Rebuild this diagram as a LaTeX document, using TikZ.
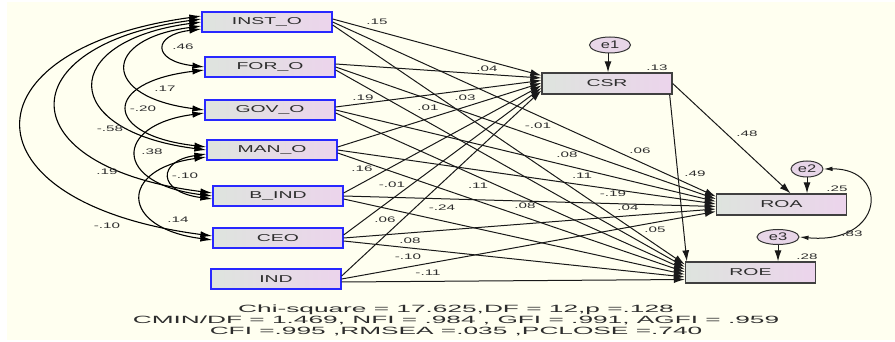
\documentclass[tikz,border=0pt]{standalone}
\usepackage{fontspec}
\setmainfont{Liberation Sans}
\usepackage{graphicx}
\usetikzlibrary{arrows.meta,shapes.geometric}
\definecolor{bgc}{RGB}{255,255,240}
\definecolor{exob}{RGB}{40,40,255}
\definecolor{lgrey}{RGB}{222,228,222}
\definecolor{lpink}{RGB}{236,212,236}
\definecolor{ellf}{RGB}{232,214,232}
\definecolor{txt}{RGB}{45,45,45}
\newcommand{\sxa}[1]{\scalebox{1.9}[1]{#1}}
\newcommand{\sxb}[1]{\scalebox{1.94}[1]{#1}}
\newcommand{\sxc}[1]{\scalebox{2.5}[1]{#1}}
\newcommand{\sxe}[1]{\scalebox{1.5}[1]{#1}}
\begin{document}
\begin{tikzpicture}[x=1pt,y=-1pt,
  exo/.style={draw=exob, line width=1.3pt, left color=lgrey, right color=lpink, minimum width=130pt, minimum height=20pt, inner sep=0pt, text=txt, font=\fontsize{10}{12}\selectfont},
  endo/.style={draw=black!75, line width=1.3pt, left color=lgrey, right color=lpink, minimum width=130pt, minimum height=21pt, inner sep=0pt, text=txt, font=\fontsize{10}{12}\selectfont},
  err/.style={ellipse, draw=black!80, line width=1pt, fill=ellf, inner sep=0pt, text=txt, font=\fontsize{11}{12}\selectfont},
  lab/.style={inner sep=0pt, text=txt, font=\fontsize{8}{9}\selectfont},
  bot/.style={inner sep=0pt, text=txt, font=\fontsize{10.5}{12}\selectfont},
  reg/.style={draw=black!90, line width=1pt, -{Latex[length=11pt,width=7pt]}},
  cov/.style={draw=black, line width=1.1pt, {Latex[length=12pt,width=6.5pt]}-{Latex[length=12pt,width=6.5pt]}},
  ecov/.style={draw=black!90, line width=1pt, {Latex[length=9pt,width=4.5pt]}-{Latex[length=9pt,width=4.5pt]}},
]
\useasboundingbox (0,0) rectangle (895,342);
\fill[bgc] (7,2) rectangle (895,340);

% exogenous
\node[exo] (INST) at (267,22) {\sxb{INST\_O}};
\node[exo] (FOR)  at (270,67) {\sxb{FOR\_O}};
\node[exo] (GOV)  at (270,110) {\sxb{GOV\_O}};
\node[exo] (MAN)  at (272,150) {\sxb{MAN\_O}};
\node[exo] (BIND) at (278,196) {\sxb{B\_IND}};
\node[exo] (CEO)  at (278,238) {\sxb{CEO}};
\node[exo] (IND)  at (276,279) {\sxb{IND}};

% endogenous
\node[endo] (CSR) at (607,83.5) {\sxb{CSR}};
\node[endo] (ROA) at (781.5,204.5) {\sxb{ROA}};
\node[endo] (ROE) at (750.5,272.5) {\sxb{ROE}};

% errors
\node[err, minimum width=41pt, minimum height=16pt] (e1) at (610,45) {\sxe{e1}};
\node[err, minimum width=32pt, minimum height=16pt] (e2) at (807,169) {\sxe{e2}};
\node[err, minimum width=42pt, minimum height=15pt] (e3) at (778,237) {\sxe{e3}};

\draw[reg] ([xshift=-2pt]e1.south) -- ([xshift=-2pt]e1.south |- CSR.north);
\draw[reg] (e2.south) -- (e2.south |- ROA.north);
\draw[reg] (e3.south) -- (e3.south |- ROE.north);
\draw[ecov] (e2.east) .. controls (890,168) and (885,245) .. (e3.east);

% regression paths
\foreach \s/\k in {INST/0,FOR/1,GOV/2,MAN/3,BIND/4,CEO/5,IND/6} {
  \pgfmathsetmacro\ty{8-2.5*\k}
  \draw[reg] ([yshift=3pt]\s.east) -- ([yshift=\ty pt]CSR.west);
  \draw[reg] (\s.east) -- ([yshift=\ty pt]ROA.west);
  \draw[reg] ([yshift=-3pt]\s.east) -- ([yshift=\ty pt]ROE.west);
}
\draw[reg] (CSR.east) -- ([xshift=9pt]ROA.north);
\draw[reg] ([xshift=-3pt]CSR.south east) -- ([xshift=2pt]ROE.north west);

% covariances
\draw[cov] ([yshift=-7pt]INST.west) .. controls (152,35) and (152,61) .. (FOR.west);
\draw[cov] ([yshift=-4pt]INST.west) .. controls (101,39) and (101,97) .. (GOV.west);
\draw[cov] ([yshift=-3pt]FOR.west) .. controls (102,82) and (102,135) .. ([yshift=3pt]MAN.west);
\draw[cov] (INST.west) .. controls (58,41) and (58,131) .. (MAN.west);
\draw[cov] ([yshift=3pt]INST.west) .. controls (7,45) and (7,167) .. ([yshift=3pt]BIND.west);
\draw[cov] ([yshift=6pt]INST.west) .. controls (-39,49) and (-39,203) .. ([yshift=2pt]CEO.west);
\draw[cov] ([yshift=-3pt]GOV.west) .. controls (113,125) and (113,184) .. (BIND.west);
\draw[cov] ([yshift=-4pt]MAN.west) .. controls (157,161) and (157,192) .. ([yshift=-3pt]BIND.west);
\draw[cov] ([yshift=-7pt]MAN.west) .. controls (119,169) and (119,228) .. ([yshift=-2pt]CEO.west);

% covariance labels
\node[lab] (c1) at (183,47) {\sxa{.46}};
\node[lab] (c2) at (165,89) {\sxa{.17}};
\node[lab] (c3) at (143,109) {\sxa{-.20}};
\node[lab] (c4) at (110,129) {\sxa{-.58}};
\node[lab] (c5) at (152,152) {\sxa{.38}};
\node[lab] (c6) at (107,172) {\sxa{.19}};
\node[lab] (c7) at (185,176) {\sxa{-.10}};
\node[lab] (c8) at (178,220) {\sxa{.14}};
\node[lab] (c9) at (107,226) {\sxa{-.10}};

% path labels
\node[lab] (p1) at (377,22) {\sxa{.15}};
\node[lab] (p2) at (487,69) {\sxa{.04}};
\node[lab] (p3) at (363,98) {\sxa{.19}};
\node[lab] (p4) at (465,98) {\sxa{.03}};
\node[lab] (p5) at (428,108) {\sxa{.01}};
\node[lab] (p6) at (538,126) {\sxa{-.01}};
\node[lab] (p7) at (567,155) {\sxa{.08}};
\node[lab] (p8) at (582,176) {\sxa{.11}};
\node[lab] (p9) at (362,169) {\sxa{.16}};
\node[lab] (p10) at (392,185) {\sxa{-.01}};
\node[lab] (p11) at (478,186) {\sxa{.11}};
\node[lab] (p12) at (613,194) {\sxa{-.19}};
\node[lab] (p13) at (442,208) {\sxa{-.24}};
\node[lab] (p14) at (525,206) {\sxa{.08}};
\node[lab] (p15) at (628,208) {\sxa{.04}};
\node[lab] (p16) at (385,220) {\sxa{.06}};
\node[lab] (p17) at (410,241) {\sxa{.08}};
\node[lab] (p18) at (408,257) {\sxa{-.10}};
\node[lab] (p19) at (428,273) {\sxa{-.11}};
\node[lab] (p20) at (640,151) {\sxa{.06}};
\node[lab] (p21) at (655,230) {\sxa{.05}};
\node[lab] (p22) at (747,134) {\sxa{.48}};
\node[lab] (p23) at (695,174) {\sxa{.49}};
\node[lab] (r1) at (657,68) {\sxa{.13}};
\node[lab] (r2) at (837,189) {\sxa{.25}};
\node[lab] (r3) at (807,257) {\sxa{.28}};
\node[lab] (r4) at (852,234) {\sxa{.83}};

% fit indices
\node[bot, anchor=base] (f1) at (456,312) {\sxc{Chi-square = 17.625,DF = 12,p =.128}};
\node[bot, anchor=base] (f2) at (456,323) {\sxc{CMIN/DF = 1.469, NFI = .984 , GFI = .991, AGFI = .959}};
\node[bot, anchor=base] (f3) at (456,334) {\sxc{CFI =.995 ,RMSEA =.035 ,PCLOSE =.740}};
\end{tikzpicture}
\end{document}
